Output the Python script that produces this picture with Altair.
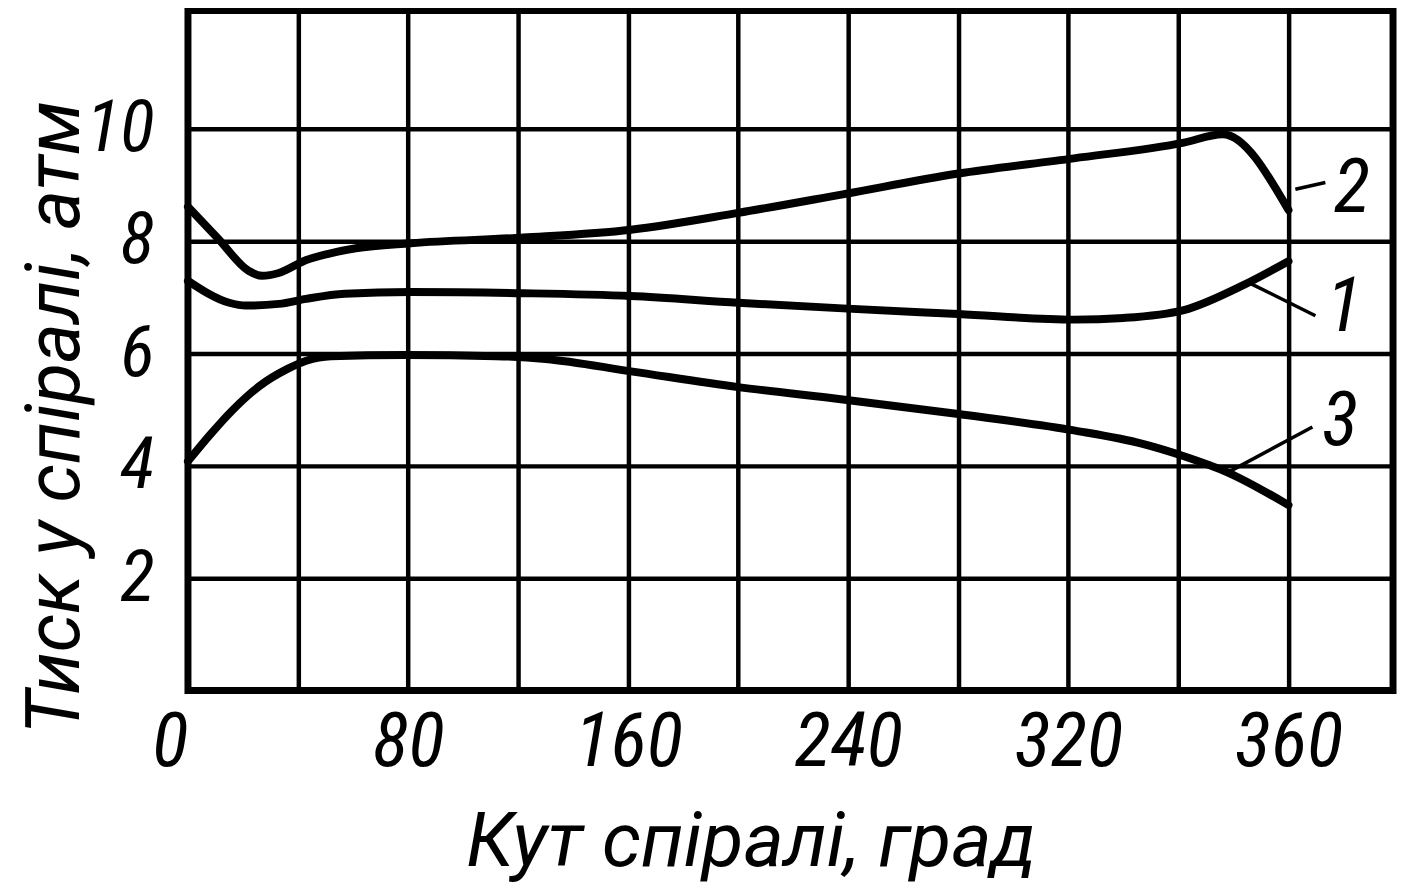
import altair as alt
import pandas as pd

# Horizontal positions are in the drawing's grid units (one cell = 40);
# the last labelled grid line is printed as "360" in the original figure.
x_ticks = [0, 40, 80, 120, 160, 200, 240, 280, 320, 360, 400]
y_ticks = [2, 4, 6, 8, 10]

# curve 1
x1 = [0, 15, 21, 33, 43, 57, 81, 122, 161, 200, 238, 280, 322, 340, 362, 383, 400]
y1 = [7.29, 6.9, 6.85, 6.88, 6.97, 7.06, 7.09, 7.07, 7.02, 6.9, 6.8, 6.7, 6.6, 6.63, 6.77, 7.2, 7.64]
# curve 2
x2 = [0, 11, 22, 27, 33, 43, 51, 61, 81, 122, 161, 200, 238, 280, 322, 362, 376, 400]
y2 = [8.61, 8.04, 7.47, 7.38, 7.43, 7.66, 7.77, 7.87, 7.96, 8.06, 8.2, 8.5, 8.83, 9.2, 9.47, 9.75, 9.9, 8.55]
# curve 3
x3 = [0, 8, 16, 26, 36, 43, 52, 79, 112, 130, 161, 200, 238, 280, 322, 347, 362, 378, 400]
y3 = [4.08, 4.55, 4.98, 5.42, 5.72, 5.87, 5.95, 5.97, 5.95, 5.9, 5.68, 5.4, 5.18, 4.92, 4.63, 4.39, 4.17, 3.88, 3.3]

# curve numbers and their leader lines
label_text = ["1", "2", "3"]
label_x = [420.2, 423.0, 418.8]
label_y = [6.81, 8.92, 4.78]
leader_x0 = [385.9, 402.5, 378.7]
leader_y0 = [7.25, 8.92, 3.9]
leader_x1 = [409.8, 413.4, 408.7]
leader_y1 = [6.67, 9.04, 4.69]

rows = []
for name, xs, ys in (("1", x1, y1), ("2", x2, y2), ("3", x3, y3)):
    for a, b in zip(xs, ys):
        rows.append({"curve": name, "angle": a, "pressure": b})
curves = pd.DataFrame(rows)

labels = pd.DataFrame({"text": label_text, "angle": label_x, "pressure": label_y,
                       "ax": leader_x0, "ay": leader_y0, "bx": leader_x1, "by": leader_y1})

TICK_FONT = "Roboto Condensed, Noto Sans Condensed, Liberation Sans Narrow, DejaVu Sans Condensed"
TITLE_FONT = "Roboto, Liberation Sans"

label_expr = "datum.value === 400 ? '360' : (datum.value % 80 === 0 ? datum.label : '')"

x_scale = alt.Scale(domain=[0, 438], nice=False, zero=False)
y_scale = alt.Scale(domain=[0, 12.1], nice=False)

x_axis = alt.Axis(
    values=x_ticks, labelExpr=label_expr, format="d",
    title="Кут спіралі, град", titleFont=TITLE_FONT, titleFontSize=77,
    titleFontStyle="italic", titleFontWeight="normal",
    titleX=566, titleY=176, titleBaseline="alphabetic", titleAlign="center",
    labelFont=TICK_FONT, labelFontSize=76, labelFontStyle="italic",
    labelPadding=15, labelBaseline="top",
    labelAlign={"condition": {"test": "datum.value === 0", "value": "right"}, "value": "center"},
)
y_axis = alt.Axis(
    values=y_ticks, format="d",
    title="Тиск у спіралі, атм", titleFont=TITLE_FONT, titleFontSize=76,
    titleFontStyle="italic", titleFontWeight="normal",
    titleX=-110, titleY=409, titleBaseline="alphabetic", titleAlign="center", titleAngle=270,
    labelFont=TICK_FONT, labelFontSize=72, labelFontStyle="italic",
    labelPadding=34,
)

lines = alt.Chart(curves).mark_line(
    color="black", strokeWidth=8, interpolate="monotone", strokeCap="round", strokeJoin="round"
).encode(
    x=alt.X("angle:Q", scale=x_scale, axis=x_axis),
    y=alt.Y("pressure:Q", scale=y_scale, axis=y_axis),
    detail="curve:N",
)

leaders = alt.Chart(labels).mark_rule(color="black", strokeWidth=3.5).encode(
    x=alt.X("ax:Q", scale=x_scale),
    y=alt.Y("ay:Q", scale=y_scale),
    x2="bx:Q",
    y2="by:Q",
)

numbers = alt.Chart(labels).mark_text(
    font=TICK_FONT, fontSize=76, fontStyle="italic", color="black",
    align="center", baseline="middle",
).encode(
    x=alt.X("angle:Q", scale=x_scale),
    y=alt.Y("pressure:Q", scale=y_scale),
    text="text:N",
)

chart = alt.layer(lines, leaders, numbers).properties(
    width=1212, height=684,
    autosize=alt.AutoSizeParams(type="none"),
    padding={"left": 181, "top": 0, "right": 5, "bottom": 193},
    background="white",
).configure_view(
    stroke="black", strokeWidth=7
).configure_axis(
    domain=False, ticks=False, tickSize=0, grid=True,
    gridColor="black", gridWidth=4.5, gridOpacity=1,
    labelColor="black", titleColor="black",
)

chart.save("out.html", embed_options={"renderer": "svg", "actions": False})
